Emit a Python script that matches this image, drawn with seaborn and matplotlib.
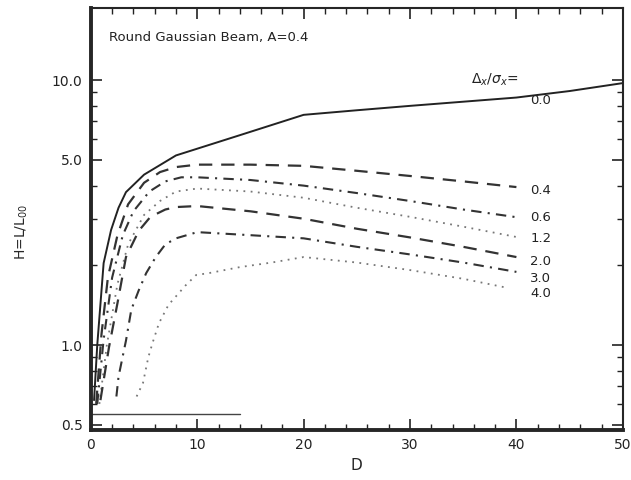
import numpy as np
import pandas as pd
import seaborn as sns
import matplotlib
matplotlib.use("Agg")
import matplotlib.pyplot as plt
from matplotlib.ticker import FixedLocator, NullFormatter

# ---- data ----
labels = ["0.0", "0.4", "0.6", "1.2", "2.0", "3.0", "4.0"]

d_00 = [0.3, 0.6, 1.2, 1.9, 2.6, 3.3, 5, 8, 14, 20, 25, 30, 40, 45, 50]
h_00 = [0.62, 1.0, 2.04, 2.72, 3.3, 3.78, 4.4, 5.2, 6.2, 7.4, 7.7, 8.0, 8.6, 9.1, 9.75]

d_04 = [0.5, 1.0, 1.6, 2.5, 3.5, 5, 6.5, 8, 10, 15, 20, 25, 30, 35, 40]
h_04 = [0.6, 1.1, 1.8, 2.6, 3.4, 4.1, 4.5, 4.7, 4.8, 4.8, 4.75, 4.55, 4.35, 4.15, 3.95]

d_06 = [0.6, 1.2, 2.0, 3.0, 4.0, 5.5, 7, 8.5, 10, 15, 20, 25, 30, 35, 40]
h_06 = [0.6, 1.05, 1.8, 2.6, 3.2, 3.8, 4.15, 4.3, 4.3, 4.2, 4.0, 3.75, 3.5, 3.25, 3.04]

d_12 = [0.8, 1.5, 2.5, 3.5, 5, 6.5, 8, 10, 15, 20, 25, 30, 35, 40]
h_12 = [0.6, 1.0, 1.7, 2.4, 3.1, 3.5, 3.8, 3.9, 3.8, 3.6, 3.3, 3.05, 2.8, 2.56]

d_20 = [0.9, 1.7, 2.5, 3.3, 4.5, 5.6, 7, 8, 10, 15, 20, 25, 30, 35, 40]
h_20 = [0.62, 0.98, 1.44, 2.15, 2.7, 3.05, 3.25, 3.32, 3.35, 3.2, 3.0, 2.75, 2.55, 2.35, 2.15]

d_30 = [2.4, 2.6, 3.3, 3.8, 4.5, 5.2, 6.1, 7, 8, 10, 15, 20, 25, 30, 35, 40]
h_30 = [0.64, 0.76, 1.04, 1.36, 1.61, 1.87, 2.15, 2.4, 2.53, 2.67, 2.6, 2.53, 2.35, 2.2, 2.05, 1.89]

d_40 = [4.3, 4.9, 5.4, 5.8, 6.4, 7.3, 8.9, 9.9, 11.1, 14, 17, 20, 25, 30, 35, 39]
h_40 = [0.64, 0.72, 0.9, 1.02, 1.21, 1.42, 1.68, 1.84, 1.87, 1.97, 2.05, 2.15, 2.05, 1.92, 1.78, 1.65]

x_ticks = [0, 10, 20, 30, 40, 50]
y_ticks = [0.5, 1.0, 5.0, 10.0]
y_tick_labels = ["0.5", "1.0", "5.0", "10.0"]

series_d = [d_00, d_04, d_06, d_12, d_20, d_30, d_40]
series_h = [h_00, h_04, h_06, h_12, h_20, h_30, h_40]

# ---- style ----
sns.set_style("ticks")
plt.rcParams["font.family"] = ["DejaVu Sans"]

styles = {
    "0.0": dict(dashes=None, color="#222222", lw=1.4),
    "0.4": dict(dashes=(6, 4), color="#333333", lw=1.6),
    "0.6": dict(dashes=(5, 3, 1, 3), color="#333333", lw=1.5),
    "1.2": dict(dashes=(1, 3), color="#777777", lw=1.3),
    "2.0": dict(dashes=(6, 4), color="#333333", lw=1.6),
    "3.0": dict(dashes=(5, 3, 1, 3), color="#333333", lw=1.5),
    "4.0": dict(dashes=(1, 3), color="#777777", lw=1.3),
}

fig = plt.figure(figsize=(6.31, 4.80), dpi=100)
ax = fig.add_axes([0.144, 0.104, 0.843, 0.879])

for lab, d, h in zip(labels, series_d, series_h):
    df = pd.DataFrame({"D": d, "H": h})
    st = styles[lab]
    sns.lineplot(data=df, x="D", y="H", ax=ax, color=st["color"], lw=st["lw"],
                 estimator=None, sort=False)
    line = ax.lines[-1]
    if st.get("dashes"):
        line.set_dashes(st["dashes"])

ax.set_yscale("log")
ax.set_xlim(0, 50)
ax.set_ylim(0.478, 18.7)

ax.set_xticks(x_ticks)
ax.set_xticklabels([str(t) for t in x_ticks])
ax.xaxis.set_minor_locator(FixedLocator(np.arange(2, 50, 2)))
ax.yaxis.set_major_locator(FixedLocator(y_ticks))
ax.set_yticklabels(y_tick_labels)
ax.yaxis.set_minor_locator(FixedLocator([0.6, 0.7, 0.8, 0.9, 2, 3, 4, 6, 7, 8, 9]))
ax.yaxis.set_minor_formatter(NullFormatter())

ax.tick_params(which="both", direction="in", top=True, right=True,
               labelsize=10, colors="#222222", pad=6)
ax.tick_params(which="major", length=8, width=1.2)
ax.tick_params(which="minor", length=4, width=1.0)

for s in ["left", "bottom"]:
    ax.spines[s].set_linewidth(2.8)
for s in ["top", "right"]:
    ax.spines[s].set_linewidth(1.5)

# faint mis-registered baseline seen in the scan
ax.plot([0, 14], [0.549, 0.549], color="#444444", lw=1.0)

ax.set_xlabel("D", fontsize=11, labelpad=4)
ax.set_ylabel(r"H=L/L$_{00}$", fontsize=10)
ax.yaxis.set_label_coords(-0.115, 0.47)

ax.text(0.035, 0.93, "Round Gaussian Beam, A=0.4", transform=ax.transAxes,
        fontsize=9.5, color="#222222", va="center", ha="left")
ax.text(0.715, 0.83, r"$\Delta_x/\sigma_x$=", transform=ax.transAxes,
        fontsize=10, color="#222222", va="center", ha="left")

label_pos_y = [8.4, 3.84, 3.02, 2.53, 2.06, 1.79, 1.56]
for lab, yv in zip(labels, label_pos_y):
    ax.text(41.3, yv, lab, fontsize=9.5, color="#222222", va="center", ha="left")

fig.savefig("out.png", dpi=100)
